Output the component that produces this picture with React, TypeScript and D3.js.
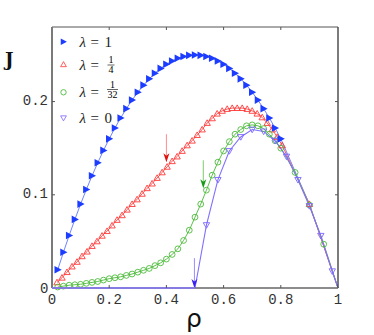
import React from 'react';
import * as d3 from 'd3';

// J(rho) curves for several lambda values
const blueData: [number, number][] = [
  [0.02, 0.0196], [0.04, 0.0384], [0.06, 0.0564], [0.08, 0.0736], [0.1, 0.09],
  [0.12, 0.1056], [0.14, 0.1204], [0.16, 0.1344], [0.18, 0.1476], [0.2, 0.16],
  [0.22, 0.1716], [0.24, 0.1824], [0.26, 0.1924], [0.28, 0.2016], [0.3, 0.21],
  [0.32, 0.2176], [0.34, 0.2244], [0.36, 0.2304], [0.38, 0.2356], [0.4, 0.24],
  [0.42, 0.2436], [0.44, 0.2464], [0.46, 0.2484], [0.48, 0.2496], [0.5, 0.25],
  [0.52, 0.2496], [0.54, 0.2484], [0.56, 0.2464], [0.58, 0.2436], [0.6, 0.24],
  [0.62, 0.2356], [0.64, 0.2304], [0.66, 0.2244], [0.68, 0.2176], [0.7, 0.21],
  [0.72, 0.2016], [0.74, 0.1924], [0.76, 0.1824], [0.78, 0.1716], [0.8, 0.16],
];
const blueTail: [number, number][] = [[0.9, 0.09], [1, 0]];

const redData: [number, number][] = [
  [0.0175, 0.006], [0.035, 0.011], [0.0525, 0.017], [0.07, 0.023], [0.0875, 0.028],
  [0.105, 0.034], [0.1225, 0.039], [0.14, 0.045], [0.1575, 0.05], [0.175, 0.056],
  [0.1925, 0.061], [0.21, 0.067], [0.2275, 0.073], [0.245, 0.078], [0.2625, 0.084],
  [0.28, 0.09], [0.2975, 0.095], [0.315, 0.101], [0.3325, 0.107], [0.35, 0.112],
  [0.3675, 0.118], [0.385, 0.124], [0.4025, 0.13], [0.42, 0.136], [0.4375, 0.141],
  [0.455, 0.147], [0.4725, 0.153], [0.49, 0.158], [0.5075, 0.164], [0.525, 0.17],
  [0.5425, 0.177], [0.56, 0.182], [0.5775, 0.187], [0.595, 0.19], [0.6125, 0.192],
  [0.63, 0.193], [0.6475, 0.193], [0.665, 0.193], [0.6825, 0.192], [0.7, 0.19],
  [0.7175, 0.187], [0.735, 0.183], [0.7525, 0.177], [0.77, 0.17], [0.7875, 0.162],
  [0.805, 0.153], [0.9, 0.09],
];
const redTail: [number, number][] = [[1, 0]];

const greenData: [number, number][] = [
  [0.02, 0.001], [0.04, 0.002], [0.06, 0.003], [0.08, 0.0035], [0.1, 0.004],
  [0.12, 0.005], [0.14, 0.006], [0.16, 0.007], [0.18, 0.0085], [0.2, 0.01],
  [0.22, 0.011], [0.24, 0.012], [0.26, 0.0135], [0.28, 0.015], [0.3, 0.017],
  [0.32, 0.019], [0.34, 0.021], [0.36, 0.024], [0.38, 0.027], [0.4, 0.031],
  [0.42, 0.036], [0.44, 0.042], [0.46, 0.051], [0.48, 0.062], [0.5, 0.076],
  [0.52, 0.09], [0.54, 0.105], [0.56, 0.121], [0.58, 0.135], [0.6, 0.147],
  [0.62, 0.157], [0.64, 0.165], [0.66, 0.17], [0.68, 0.174], [0.7, 0.175],
  [0.72, 0.174], [0.74, 0.171], [0.76, 0.165], [0.78, 0.158], [0.8, 0.15],
  [0.85, 0.124], [0.9, 0.089], [0.95, 0.047],
];
const greenTail: [number, number][] = [[1, 0]];

const purpleHead: [number, number][] = [[0, 0], [0.5, 0]];
const purpleData: [number, number][] = [
  [0.54, 0.0675], [0.58, 0.116], [0.62, 0.147], [0.66, 0.162], [0.7, 0.17],
  [0.74, 0.168], [0.78, 0.158], [0.82, 0.141], [0.86, 0.116], [0.9, 0.088],
  [0.94, 0.056], [0.98, 0.018],
];
const purpleTail: [number, number][] = [[1, 0]];

const xTicks = [0, 0.2, 0.4, 0.6, 0.8, 1];
const xTickLabels = ['0', '0.2', '0.4', '0.6', '0.8', '1'];
const yTicks = [0, 0.1, 0.2];
const yTickLabels = ['0', '0.1', '0.2'];

// critical-density arrows: rho, J at tail, J at tip
const arrows = [
  { rho: 0.4, from: 0.165, to: 0.135, line: '#ff8a8a', head: '#e01010' },
  { rho: 0.529, from: 0.137, to: 0.107, line: '#7ccc6a', head: '#149a14' },
  { rho: 0.498, from: 0.032, to: 0.0, line: '#9a8cff', head: '#3a22ee' },
];

const W = 374, H = 335;
const L = 52, R = 338, T = 27, B = 288;

const x = d3.scaleLinear().domain([0, 1]).range([L, R]);
const y = d3.scaleLinear().domain([0, 0.28]).range([B, T]);
const line = d3.line<[number, number]>().x(d => x(d[0])).y(d => y(d[1]));

const triRight = 'M-3.2,-3.8L4,0L-3.2,3.8Z';
const triUp = 'M0,-3.2L3.2,2.4L-3.2,2.4Z';
const triDown = 'M-3.2,-2.4L3.2,-2.4L0,3.2Z';

const mono = '"Liberation Mono", "DejaVu Sans Mono", monospace';
const serif = '"Liberation Serif", "DejaVu Serif", serif';

const Frac = ({ cx, cy, num, den }: { cx: number; cy: number; num: string; den: string }) => (
  <g>
    <text x={cx} y={cy - 2} textAnchor="middle" fontSize={10} fontFamily={serif}>{num}</text>
    <line x1={cx - (den.length > 1 ? 5.5 : 3.5)} x2={cx + (den.length > 1 ? 5.5 : 3.5)} y1={cy} y2={cy} stroke="#222" strokeWidth={0.7} />
    <text x={cx} y={cy + 8} textAnchor="middle" fontSize={10} fontFamily={serif}>{den}</text>
  </g>
);

export default function App() {
  return (
    <div style={{ position: 'absolute', left: 0, top: 0 }}>
      <svg width={W} height={H} style={{ display: 'block', background: '#fff' }}>
        {/* lines */}
        <path d={line([...blueData, ...blueTail])!} fill="none" stroke="#6f84ff" strokeWidth={1} />
        <path d={line([...redData, ...redTail])!} fill="none" stroke="#ff5a5a" strokeWidth={1} />
        <path d={line([...greenData, ...greenTail])!} fill="none" stroke="#5cc04a" strokeWidth={1} />
        <path d={line([...purpleHead, ...purpleData, ...purpleTail])!} fill="none" stroke="#7f70ff" strokeWidth={1.1} />

        {/* markers */}
        {redData.map((d, i) => (
          <path key={'r' + i} d={triUp} transform={`translate(${x(d[0])},${y(d[1])})`} fill="none" stroke="#ff3a3a" strokeWidth={0.9} />
        ))}
        {greenData.map((d, i) => (
          <circle key={'g' + i} cx={x(d[0])} cy={y(d[1])} r={2.9} fill="none" stroke="#4cbb3a" strokeWidth={0.9} />
        ))}
        {purpleData.map((d, i) => (
          <path key={'p' + i} d={triDown} transform={`translate(${x(d[0])},${y(d[1])})`} fill="none" stroke="#7a66ff" strokeWidth={0.9} />
        ))}
        {blueData.map((d, i) => (
          <path key={'b' + i} d={triRight} transform={`translate(${x(d[0])},${y(d[1])})`} fill="#1c3cff" />
        ))}

        {/* arrows */}
        {arrows.map((a, i) => {
          const ax = x(a.rho), y0 = y(a.from), y1 = y(a.to);
          return (
            <g key={'a' + i}>
              <line x1={ax} x2={ax} y1={y0} y2={y1 - 4} stroke={a.line} strokeWidth={1} />
              <path d={`M${ax},${y1}L${ax - 3},${y1 - 9}L${ax},${y1 - 6.5}L${ax + 3},${y1 - 9}Z`} fill={a.head} />
            </g>
          );
        })}

        {/* frame */}
        <line x1={L} x2={R} y1={T} y2={T} stroke="#555" strokeWidth={1} />
        <line x1={R} x2={R} y1={T} y2={B} stroke="#444" strokeWidth={1.4} />
        <line x1={L} x2={R} y1={B} y2={B} stroke="#666" strokeWidth={1.4} />
        <line x1={L} x2={L} y1={T} y2={B} stroke="#7a7a7a" strokeWidth={2} />
        <path d={line(purpleHead)!} fill="none" stroke="#8a7cff" strokeWidth={1.4} />

        {/* ticks */}
        {xTicks.slice(1, -1).map((t, i) => (
          <g key={'xt' + i} stroke="#555" strokeWidth={1}>
            <line x1={x(t)} x2={x(t)} y1={B} y2={B - 3} />
            <line x1={x(t)} x2={x(t)} y1={T} y2={T + 3} />
          </g>
        ))}
        {yTicks.slice(1).map((t, i) => (
          <g key={'yt' + i} stroke="#555" strokeWidth={1}>
            <line x1={L} x2={L + 3} y1={y(t)} y2={y(t)} />
            <line x1={R} x2={R - 3} y1={y(t)} y2={y(t)} />
          </g>
        ))}
        {xTicks.map((t, i) => (
          <text key={'xl' + i} x={x(t)} y={300} textAnchor="middle" dominantBaseline="middle" fontFamily={mono} fontSize={14} fill="#333">
            {xTickLabels[i]}
          </text>
        ))}
        {yTicks.map((t, i) => (
          <text key={'yl' + i} x={i === 0 ? 48.5 : 48} y={y(t) + (i === 0 ? 1 : 0)} textAnchor="end" dominantBaseline="middle" fontFamily={mono} fontSize={14} fill="#333">
            {yTickLabels[i]}
          </text>
        ))}

        {/* axis titles */}
        <text x={5} y={65.5} fontFamily='"DejaVu Serif", serif' fontWeight="bold" fontSize={18} fill="#111">J</text>
        <text x={194} y={327} textAnchor="middle" fontFamily='"DejaVu Sans", sans-serif' fontSize={25} fill="#111">ρ</text>

        {/* legend */}
        <g>
          <path d={triRight} transform="translate(63.5,41.7) scale(0.85)" fill="#1c3cff" />
          <path d={triUp} transform="translate(63.5,64.5) scale(0.9)" fill="none" stroke="#ff3a3a" strokeWidth={0.9} />
          <circle cx={63.5} cy={92.3} r={2.7} fill="none" stroke="#4cbb3a" strokeWidth={0.9} />
          <path d={triDown} transform="translate(63.5,118) scale(0.9)" fill="none" stroke="#7a66ff" strokeWidth={0.9} />

          <g fontFamily={serif} fontSize={15} fill="#222">
            <text x={79.5} y={46.5}><tspan fontStyle="italic">λ</tspan></text>
            <text x={90.5} y={46.5}>=</text>
            <text x={104.5} y={46.5}>1</text>

            <text x={79.5} y={69.5}><tspan fontStyle="italic">λ</tspan></text>
            <text x={90.5} y={69.5}>=</text>

            <text x={79.5} y={97}><tspan fontStyle="italic">λ</tspan></text>
            <text x={90.5} y={97}>=</text>

            <text x={79.5} y={123}><tspan fontStyle="italic">λ</tspan></text>
            <text x={90.5} y={123}>=</text>
            <text x={104.5} y={123}>0</text>
          </g>
          <Frac cx={111} cy={65} num="1" den="4" />
          <Frac cx={112.5} cy={89.5} num="1" den="32" />
        </g>
      </svg>
    </div>
  );
}
